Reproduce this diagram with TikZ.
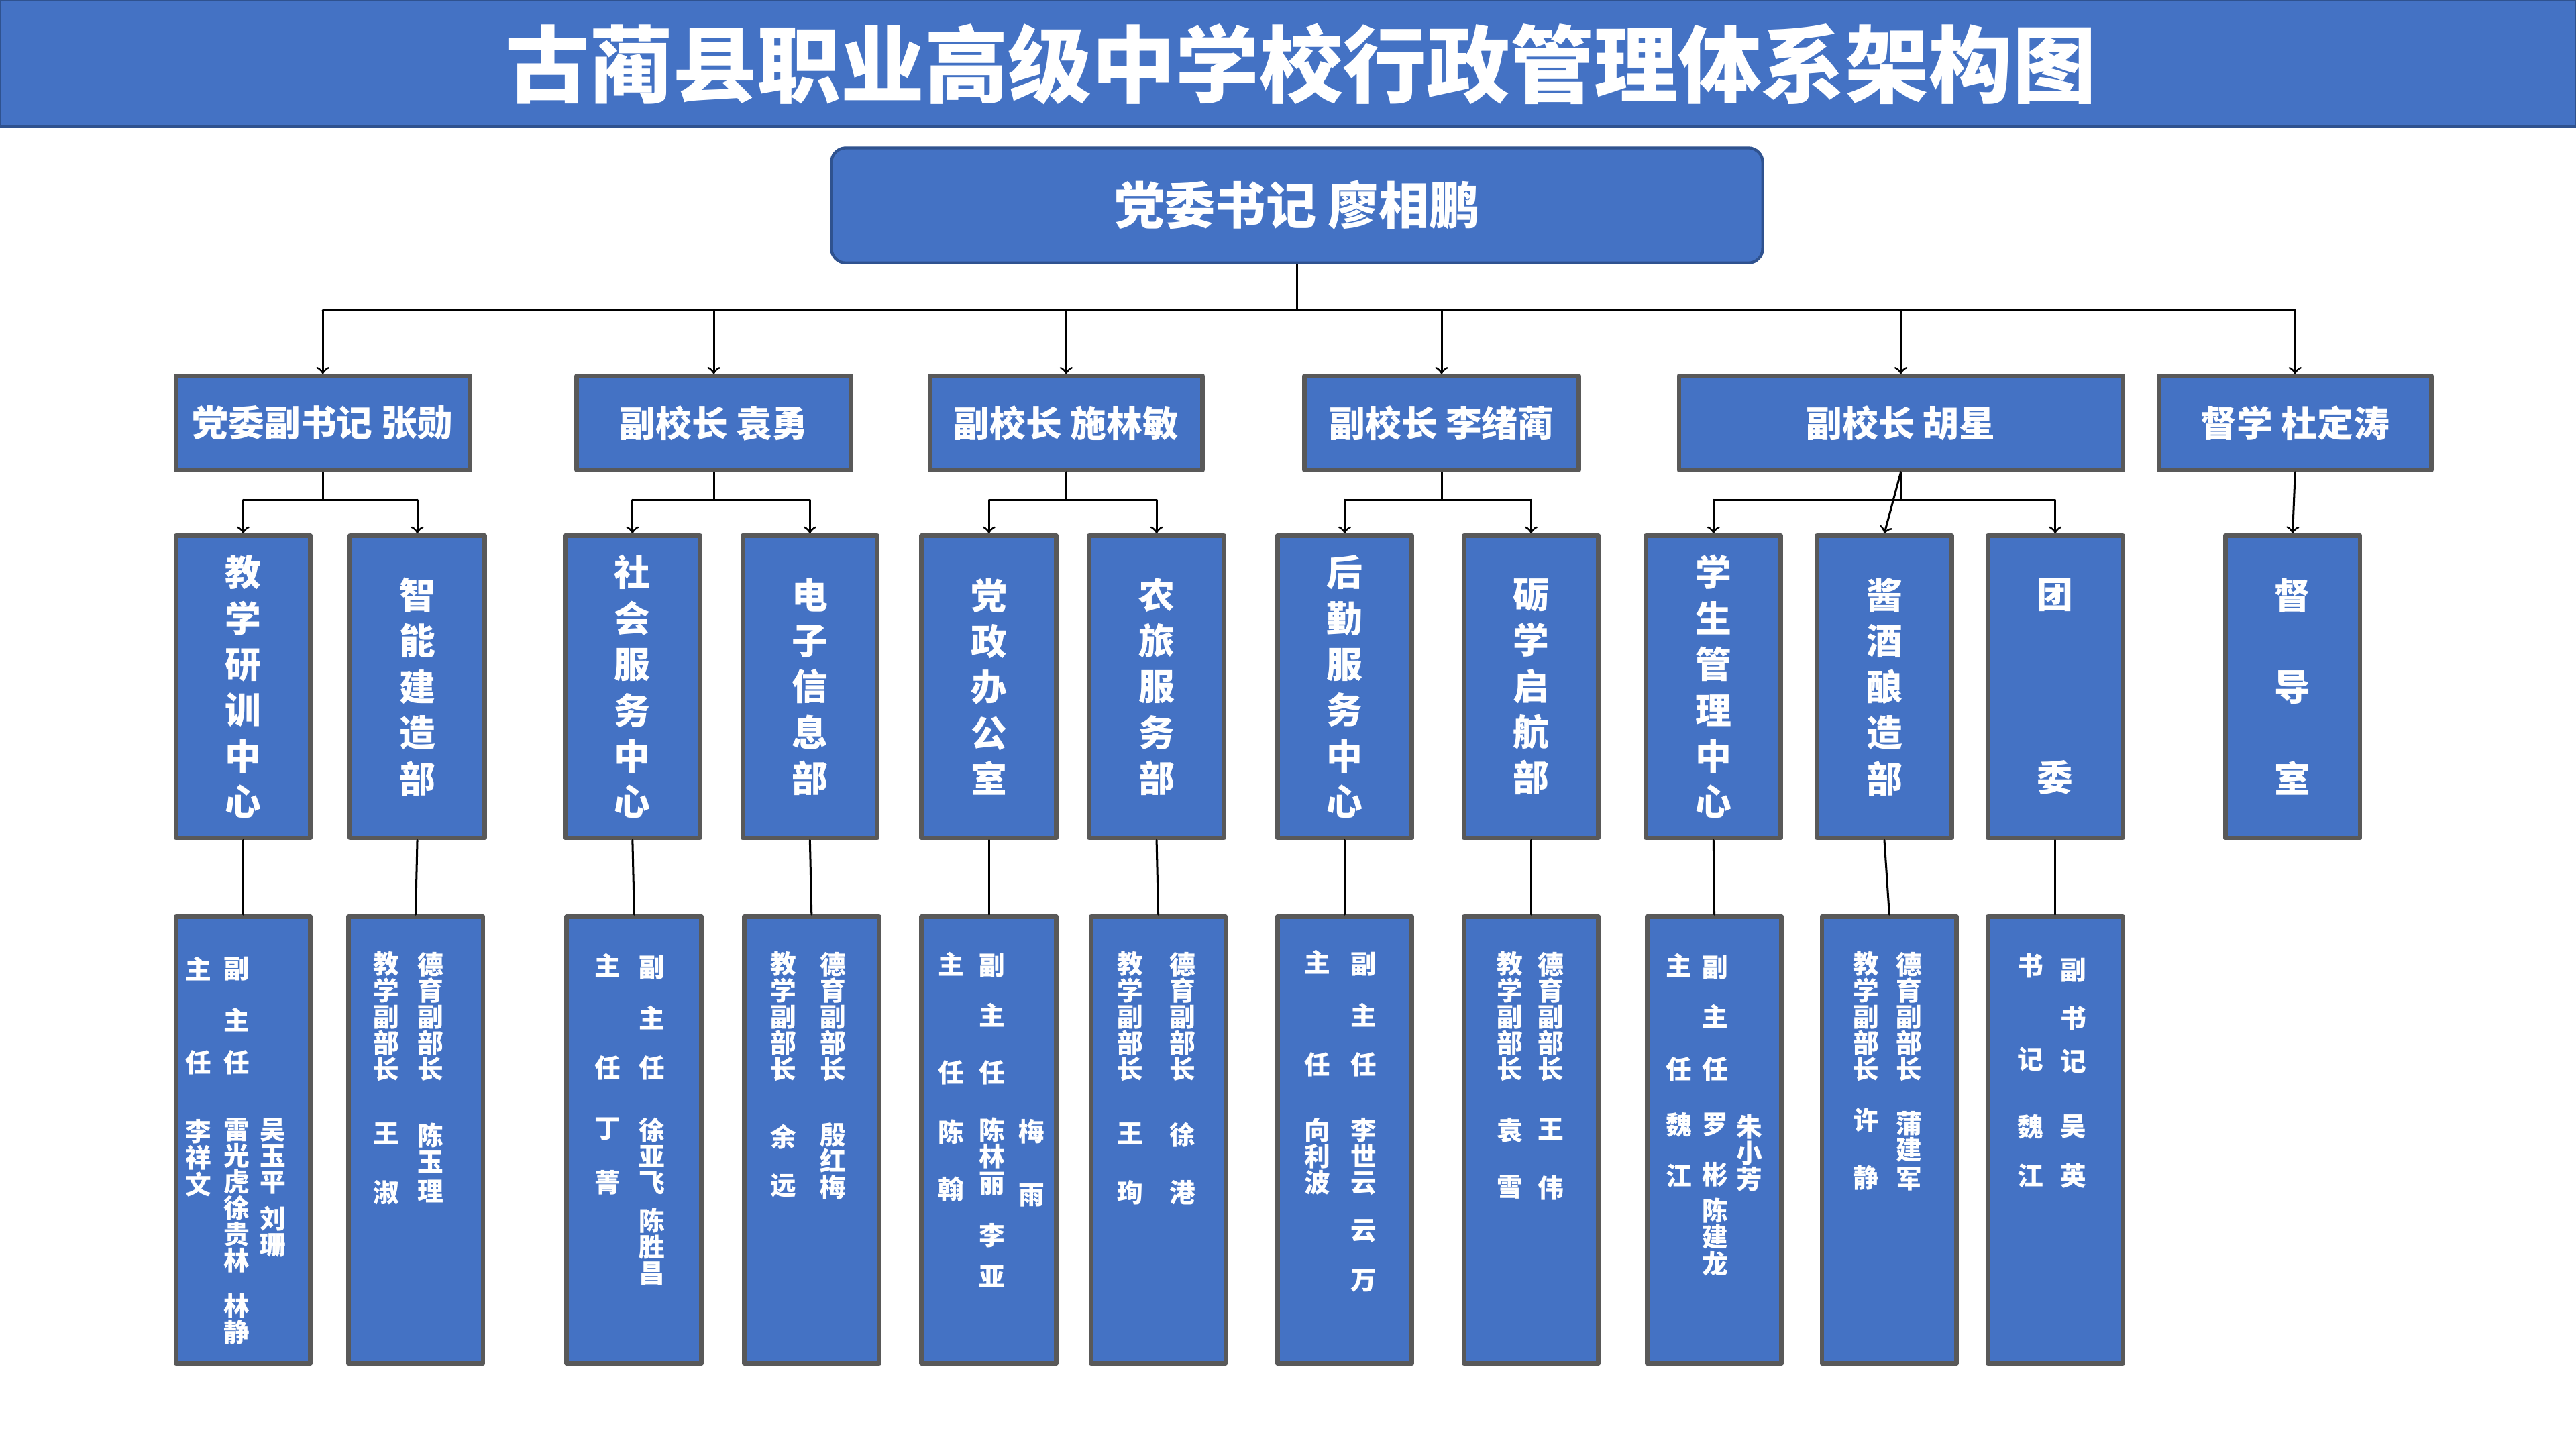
\documentclass[tikz,border=0pt]{standalone}
\usepackage{fontspec}
\setmainfont{Noto Sans CJK SC}
\usetikzlibrary{arrows}
\definecolor{boxblue}{HTML}{4472C4}
\definecolor{darkblue}{HTML}{2F528F}
\definecolor{edgegray}{HTML}{595959}
\newcount\segn
% one vertical run of characters, first character centred at (x,y)
\newcommand\vt[3]{\global\advance\segn by 1
  \node[vtext] (t\the\segn) at (#1,#2-9) {#3};}
\begin{document}
\begin{tikzpicture}[x=0.02cm,y=-0.02cm,line cap=round,line join=round,>=to,
  titlebar/.style={draw=darkblue,line width=1pt,fill=boxblue},
  boss/.style={draw=darkblue,line width=1pt,fill=boxblue,rounded corners=5pt,minimum width=11.34cm,minimum height=1.4cm,text=white,font=\fontsize{17.5}{20}\selectfont\bfseries},
  head/.style={draw=edgegray,line width=1.6pt,fill=boxblue,minimum height=1.14cm,inner sep=0pt,text=white,font=\fontsize{12.5}{14}\selectfont\bfseries},
  dept/.style={draw=edgegray,line width=1.6pt,fill=boxblue,minimum width=1.64cm,minimum height=3.68cm,inner sep=0pt,align=center,text=white,font=\fontsize{12.5}{15.9}\selectfont\bfseries},
  staff/.style={draw=edgegray,line width=1.6pt,fill=boxblue,minimum width=1.64cm,minimum height=5.44cm,inner sep=0pt},
  vtext/.style={anchor=north,inner sep=0pt,align=center,text=white,font=\fontsize{9}{9.1}\selectfont\bfseries},
  link/.style={line width=0.7pt,black}]
\useasboundingbox (0,0) rectangle (1568,882);
\fill[white] (0,0) rectangle (1568,882);
\draw[titlebar] (0,0) rectangle (1568,77);
\node[text=white,font=\fontsize{29}{32}\selectfont\bfseries] (title) at (792,39) {古蔺县职业高级中学校行政管理体系架构图};
\node[boss] (boss) at (789.5,125) {党委书记 廖相鹏};
% second level
\node[head,minimum width=3.58cm] (h1) at (196.5,257.5) {党委副书记 张勋};
\node[head,minimum width=3.34cm] (h2) at (434.5,257.5) {副校长 袁勇};
\node[head,minimum width=3.32cm] (h3) at (649,257.5) {副校长 施林敏};
\node[head,minimum width=3.34cm] (h4) at (877.5,257.5) {副校长 李绪蔺};
\node[head,minimum width=5.4cm] (h5) at (1157,257.5) {副校长 胡星};
\node[head,minimum width=3.32cm] (h6) at (1397,257.5) {督学 杜定涛};
% departments
\node[dept] (d1) at (148,418) {教\\学\\研\\训\\中\\心};
\node[dept] (d2) at (254,418) {智\\能\\建\\造\\部};
\node[dept] (d3) at (385,418) {社\\会\\服\\务\\中\\心};
\node[dept] (d4) at (493,418) {电\\子\\信\\息\\部};
\node[dept] (d5) at (602,418) {党\\政\\办\\公\\室};
\node[dept] (d6) at (704,418) {农\\旅\\服\\务\\部};
\node[dept] (d7) at (818.5,418) {后\\勤\\服\\务\\中\\心};
\node[dept] (d8) at (932,418) {砺\\学\\启\\航\\部};
\node[dept] (d9) at (1043,418) {学\\生\\管\\理\\中\\心};
\node[dept] (d10) at (1147,418) {酱\\酒\\酿\\造\\部};
\node[dept] (d11) at (1251,418) {团\\ \\ \\ \\委};
\node[dept] (d12) at (1395.5,418) {督\\ \\导\\ \\室};
% staff boxes
\foreach \n/\x in {1/148,2/253,3/386,4/494,5/602,6/705,7/818.5,8/932,9/1043.5,10/1150,11/1251}
  \node[staff] (s\n) at (\x,694) {};
% connectors
\draw[link] (boss.south) -- ++(0,28) coordinate (j0);
\draw[link] (j0 -| h1) -- (j0 -| h6);
\foreach \h in {h1,h2,h3,h4,h5,h6}
  \draw[link,->] (j0 -| \h) -- (\h.north);
\foreach \h/\a/\b in {h1/d1/d2,h2/d3/d4,h3/d5/d6,h4/d7/d8,h5/d9/d11} {
  \draw[link] (\h.south) -- ++(0,17) coordinate (k);
  \draw[link] (k -| \a) -- (k -| \b);
  \draw[link,->] (k -| \a) -- (\a.north);
  \draw[link,->] (k -| \b) -- (\b.north);
}
\draw[link,->] (h5.south) -- (d10.north);
\draw[link,->] (h6.south) -- (d12.north);
\foreach \n in {1,...,11}
  \draw[link] (d\n.south) -- (s\n.north);
% staff names
\vt{121}{591}{主} \vt{121}{648}{任} \vt{121}{690}{李\\祥\\文}
\vt{144}{591}{副} \vt{144}{622}{主} \vt{144}{648}{任} \vt{144}{689}{雷\\光\\虎\\徐\\贵\\林} \vt{144}{796}{林\\静}
\vt{166}{689}{吴\\玉\\平} \vt{166}{743}{刘\\珊}
\vt{235}{588}{教\\学\\副\\部\\长} \vt{235}{692}{王} \vt{235}{727}{淑}
\vt{262}{588}{德\\育\\副\\部\\长} \vt{262}{692}{陈\\玉} \vt{262}{727}{理}
\vt{370}{589}{主} \vt{370}{651}{任} \vt{370}{689}{丁} \vt{370}{721}{菁}
\vt{397}{590}{副} \vt{397}{621}{主} \vt{397}{651}{任} \vt{397}{689}{徐\\亚\\飞} \vt{397}{744}{陈\\胜\\昌}
\vt{477}{588}{教\\学\\副\\部\\长} \vt{477}{693}{余} \vt{477}{723}{远}
\vt{507}{588}{德\\育\\副\\部\\长} \vt{507}{692}{殷\\红\\梅}
\vt{579}{588}{主} \vt{579}{654}{任} \vt{579}{690}{陈} \vt{579}{725}{翰}
\vt{604}{589}{副} \vt{604}{619}{主} \vt{604}{654}{任} \vt{604}{689}{陈\\林\\丽} \vt{604}{753}{李} \vt{604}{779}{亚}
\vt{628}{690}{梅} \vt{628}{729}{雨}
\vt{688}{588}{教\\学\\副\\部\\长} \vt{688}{692}{王} \vt{688}{727}{珣}
\vt{720}{588}{德\\育\\副\\部\\长} \vt{720}{692}{徐} \vt{720}{727}{港}
\vt{802}{587}{主} \vt{802}{649}{任} \vt{802}{689}{向\\利\\波}
\vt{830}{588}{副} \vt{830}{619}{主} \vt{830}{649}{任} \vt{830}{689}{李\\世\\云} \vt{830}{751}{云} \vt{830}{781}{万}
\vt{919}{588}{教\\学\\副\\部\\长} \vt{919}{689}{袁} \vt{919}{724}{雪}
\vt{944}{588}{德\\育\\副\\部\\长} \vt{944}{689}{王} \vt{944}{724}{伟}
\vt{1022}{589}{主} \vt{1022}{652}{任} \vt{1022}{686}{魏} \vt{1022}{717}{江}
\vt{1044}{590}{副} \vt{1044}{620}{主} \vt{1044}{652}{任} \vt{1044}{686}{罗} \vt{1044}{716}{彬} \vt{1044}{738}{陈\\建\\龙}
\vt{1065}{687}{朱\\小\\芳}
\vt{1136}{588}{教\\学\\副\\部\\长} \vt{1136}{683}{许} \vt{1136}{718}{静}
\vt{1162}{588}{德\\育\\副\\部\\长} \vt{1162}{685}{蒲\\建} \vt{1162}{719}{军}
\vt{1236}{589}{书} \vt{1236}{646}{记} \vt{1236}{687}{魏} \vt{1236}{717}{江}
\vt{1262}{592}{副} \vt{1262}{621}{书} \vt{1262}{647}{记} \vt{1262}{687}{吴} \vt{1262}{717}{英}
\end{tikzpicture}
\end{document}
